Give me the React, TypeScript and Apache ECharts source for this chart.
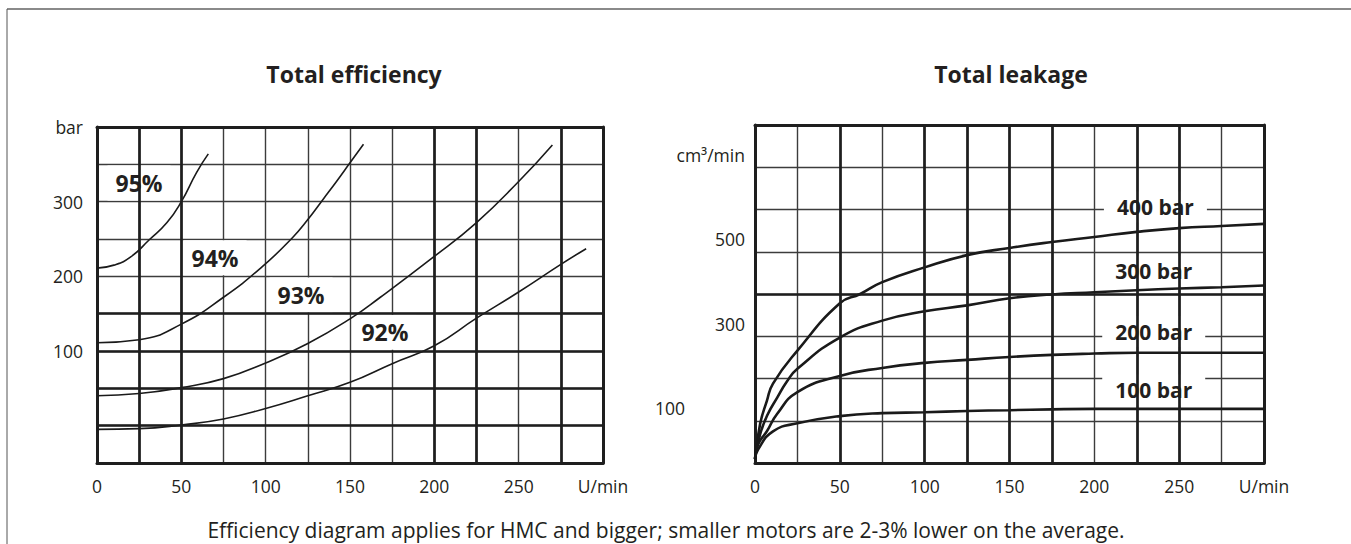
import React, { useEffect, useRef } from 'react';
import * as echarts from 'echarts';

// ---------- shared axis data ----------
const xTickLabels = [0, 50, 100, 150, 200, 250];
const xUnit = 'U/min';

// ---------- Total efficiency (left) ----------
const effYTickLabels = [100, 200, 300];
const effYUnit = 'bar';
const effNames = ['95%', '94%', '93%', '92%'];
const eff95 = [[0, 211], [10, 215], [20, 226], [31, 249], [41.5, 272], [50, 300], [59, 339], [66, 364]];
const eff94 = [[0, 111], [25, 115], [50, 136], [75, 172], [98, 213], [116, 252], [125, 276], [134, 303], [142, 327], [150, 352], [158, 377]];
const eff93 = [[0, 40], [25, 43], [50, 51], [75, 63], [100, 84], [125, 110], [150, 143], [168, 172], [199, 225], [225, 272], [250, 327], [270, 376]];
const eff92 = [[0, -5], [25, -4], [50, 1], [75, 9], [100, 23], [125, 40], [150, 58], [175, 83], [200, 107], [225, 144], [250, 179], [275, 216], [290, 237]];
const effThickX = [25, 50, 200, 225, 275];
const effThickY = [0, 50, 100, 150];

// ---------- Total leakage (right) ----------
const leakYTickLabels = [100, 300, 500];
const leakYUnit = 'cm³/min';
const leakYUnitValue = 700;
const leakNames = ['400 bar', '300 bar', '200 bar', '100 bar'];
const leak400 = [[0, -20], [3, 62], [7, 117], [10.6, 158], [25, 236], [50, 348], [62, 370], [75, 398], [100, 433], [125, 462], [150, 479], [175, 493], [200, 505], [225, 517], [250, 526], [275, 531], [300, 536]];
const leak300 = [[0, -20], [3, 38], [7.6, 86], [13, 124], [19, 164], [25, 193], [50, 267], [75, 307], [100, 329], [125, 343], [150, 360], [175, 369], [200, 374], [225, 379], [250, 383], [275, 386], [300, 390]];
const leak200 = [[0, -20], [1.8, 14], [7, 45], [13, 86], [25, 138], [50, 176], [75, 195], [100, 207], [125, 214], [150, 221], [175, 226], [200, 229], [225, 231], [250, 231], [275, 231], [300, 231]];
const leak100 = [[0, -20], [1.8, 2], [10.6, 45], [25, 64], [50, 81], [75, 88], [100, 90], [125, 93], [150, 95], [175, 97], [200, 98], [250, 98], [300, 98]];
const leakThickX = [50, 100, 125, 150, 175, 225, 250];
const leakThickY = [370];

const title1 = 'Total efficiency';
const title2 = 'Total leakage';
const note = 'Efficiency diagram applies for HMC and bigger; smaller motors are 2-3% lower on the average.';

const FONT = "'Open Sans', 'Noto Sans', sans-serif";
const INK = '#231f20';
const THIN = { color: '#3c3c3c', width: 1.4 };
const FRAME = { color: '#1e1e1e', width: 3 };
const THICK = { color: '#1e1e1e', width: 2.7, type: 'solid' as const };

function xFmt(v: number) {
  if (v === 300) return xUnit;
  return xTickLabels.includes(v) ? String(v) : '';
}

function frameAxis(gridIndex: number, position: string, min: number, max: number) {
  return {
    gridIndex,
    position,
    type: 'value',
    min,
    max,
    axisLine: { show: true, onZero: false, lineStyle: FRAME },
    axisTick: { show: false },
    axisLabel: { show: false },
    splitLine: { show: false },
  };
}

function curve(data: number[][], xi: number, yi: number, width: number) {
  return {
    type: 'line',
    xAxisIndex: xi,
    yAxisIndex: yi,
    data,
    showSymbol: false,
    smooth: 0.5,
    lineStyle: { color: '#1a1a1a', width },
    silent: true,
    z: 4,
  };
}

function thickLines(xi: number, yi: number, xs: number[], ys: number[]) {
  return {
    type: 'line',
    xAxisIndex: xi,
    yAxisIndex: yi,
    data: [],
    silent: true,
    z: 2,
    markLine: {
      silent: true,
      symbol: ['none', 'none'],
      label: { show: false },
      lineStyle: THICK,
      emphasis: { disabled: true },
      data: [...xs.map((v) => ({ xAxis: v })), ...ys.map((v) => ({ yAxis: v }))],
    },
  };
}

function boxLabels(xi: number, yi: number, names: string[], anchors: number[][], fontSize: number, padding: number[]) {
  return {
    type: 'scatter',
    xAxisIndex: xi,
    yAxisIndex: yi,
    symbolSize: 0.1,
    itemStyle: { color: 'rgba(0,0,0,0)', opacity: 1 },
    silent: true,
    z: 3,
    data: names.map((n, i) => ({ name: n, value: anchors[i] })),
    label: {
      show: true,
      position: 'inside',
      formatter: '{b}',
      fontFamily: FONT,
      fontWeight: 'bold',
      fontSize,
      color: INK,
      opacity: 1,
      textBorderWidth: 0,
      backgroundColor: '#ffffff',
      padding,
    },
  };
}

export default function App() {
  const ref = useRef<HTMLDivElement>(null);

  useEffect(() => {
    if (!ref.current) return;
    const chart = echarts.init(ref.current, null, { renderer: 'svg' });

    const effAnchors = [[24.9, 325], [70, 225], [121, 175], [170.7, 125]];
    const leakAnchors = [[236, 576], [235, 424], [235, 281], [235, 143]];

    const leakYLabelData = [...leakYTickLabels, leakYUnitValue].map((v, i) => ({
      name: i < leakYTickLabels.length ? String(v) : leakYUnit,
      value: [0, v],
      label: v === leakYTickLabels[0] ? { distance: 70 } : undefined,
    }));

    const option: any = {
      animation: false,
      grid: [
        { left: 97, top: 127, width: 506, height: 336, containLabel: false },
        { left: 755, top: 125, width: 509, height: 338, containLabel: false },
      ],
      xAxis: [
        {
          gridIndex: 0,
          type: 'value',
          min: 0,
          max: 300,
          interval: 25,
          axisLine: { show: true, onZero: false, lineStyle: FRAME },
          axisTick: { show: false },
          splitLine: { show: true, showMinLine: false, showMaxLine: false, lineStyle: THIN },
          axisLabel: { formatter: xFmt, margin: 14, fontSize: 17.5, color: INK, fontFamily: FONT },
        },
        frameAxis(0, 'top', 0, 300),
        {
          gridIndex: 1,
          type: 'value',
          min: 0,
          max: 300,
          interval: 25,
          axisLine: { show: true, onZero: false, lineStyle: FRAME },
          axisTick: { show: false },
          splitLine: { show: true, showMinLine: false, showMaxLine: false, lineStyle: THIN },
          axisLabel: { formatter: xFmt, margin: 14, fontSize: 17.5, color: INK, fontFamily: FONT },
        },
        frameAxis(1, 'top', 0, 300),
      ],
      yAxis: [
        {
          gridIndex: 0,
          type: 'value',
          min: -50,
          max: 400,
          interval: 50,
          axisLine: { show: true, onZero: false, lineStyle: FRAME },
          axisTick: { show: false },
          splitLine: { show: true, showMinLine: false, showMaxLine: false, lineStyle: THIN },
          axisLabel: {
            formatter: (v: number) => (v === 400 ? effYUnit : effYTickLabels.includes(v) ? String(v) : ''),
            margin: 14,
            fontSize: 17.5,
            color: INK,
            fontFamily: FONT,
          },
        },
        frameAxis(0, 'right', -50, 400),
        {
          gridIndex: 1,
          type: 'value',
          min: -30,
          max: 770,
          interval: 100,
          axisLine: { show: true, onZero: false, lineStyle: FRAME },
          axisTick: { show: false },
          splitLine: { show: true, showMinLine: false, showMaxLine: false, lineStyle: THIN },
          axisLabel: { show: false },
        },
        frameAxis(1, 'right', -30, 770),
      ],
      series: [
        thickLines(0, 0, effThickX, effThickY),
        curve(eff95, 0, 0, 1.6),
        curve(eff94, 0, 0, 1.6),
        curve(eff93, 0, 0, 1.6),
        curve(eff92, 0, 0, 1.6),
        boxLabels(0, 0, effNames, effAnchors, 23, [6, 8]),
        thickLines(2, 2, leakThickX, leakThickY),
        curve(leak400, 2, 2, 2.6),
        curve(leak300, 2, 2, 2.6),
        curve(leak200, 2, 2, 2.6),
        curve(leak100, 2, 2, 2.6),
        boxLabels(2, 2, leakNames, leakAnchors, 21, [5, 13]),
        {
          type: 'scatter',
          xAxisIndex: 2,
          yAxisIndex: 2,
          symbolSize: 0.1,
          itemStyle: { color: 'rgba(0,0,0,0)', opacity: 1 },
          silent: true,
          clip: false,
          data: leakYLabelData,
          label: {
            show: true,
            position: 'left',
            distance: 10,
            formatter: '{b}',
            fontFamily: FONT,
            fontSize: 17.5,
            color: INK,
            opacity: 1,
          },
        },
      ],
      graphic: [
        { type: 'line', shape: { x1: 7, y1: 9, x2: 1351, y2: 9 }, style: { stroke: '#8a8a8a', lineWidth: 2 }, silent: true },
        { type: 'line', shape: { x1: 7, y1: 9, x2: 7, y2: 544 }, style: { stroke: '#555', lineWidth: 1 }, silent: true },
        {
          type: 'text', x: 354, y: 74, silent: true,
          style: { text: title1, fill: INK, fontFamily: FONT, fontSize: 23, fontWeight: 'bold', textAlign: 'center', textVerticalAlign: 'middle', align: 'center', verticalAlign: 'middle' },
        },
        {
          type: 'text', x: 1011, y: 74, silent: true,
          style: { text: title2, fill: INK, fontFamily: FONT, fontSize: 23, fontWeight: 'bold', textAlign: 'center', textVerticalAlign: 'middle', align: 'center', verticalAlign: 'middle' },
        },
        {
          type: 'text', x: 666, y: 530, silent: true,
          style: { text: note, fill: INK, fontFamily: FONT, fontSize: 21, textAlign: 'center', textVerticalAlign: 'middle', align: 'center', verticalAlign: 'middle' },
        },
      ],
    };

    chart.setOption(option);
    return () => chart.dispose();
  }, []);

  return (
    <div
      ref={ref}
      style={{ position: 'fixed', left: 0, top: 0, width: 1351, height: 544, background: '#ffffff' }}
    />
  );
}
